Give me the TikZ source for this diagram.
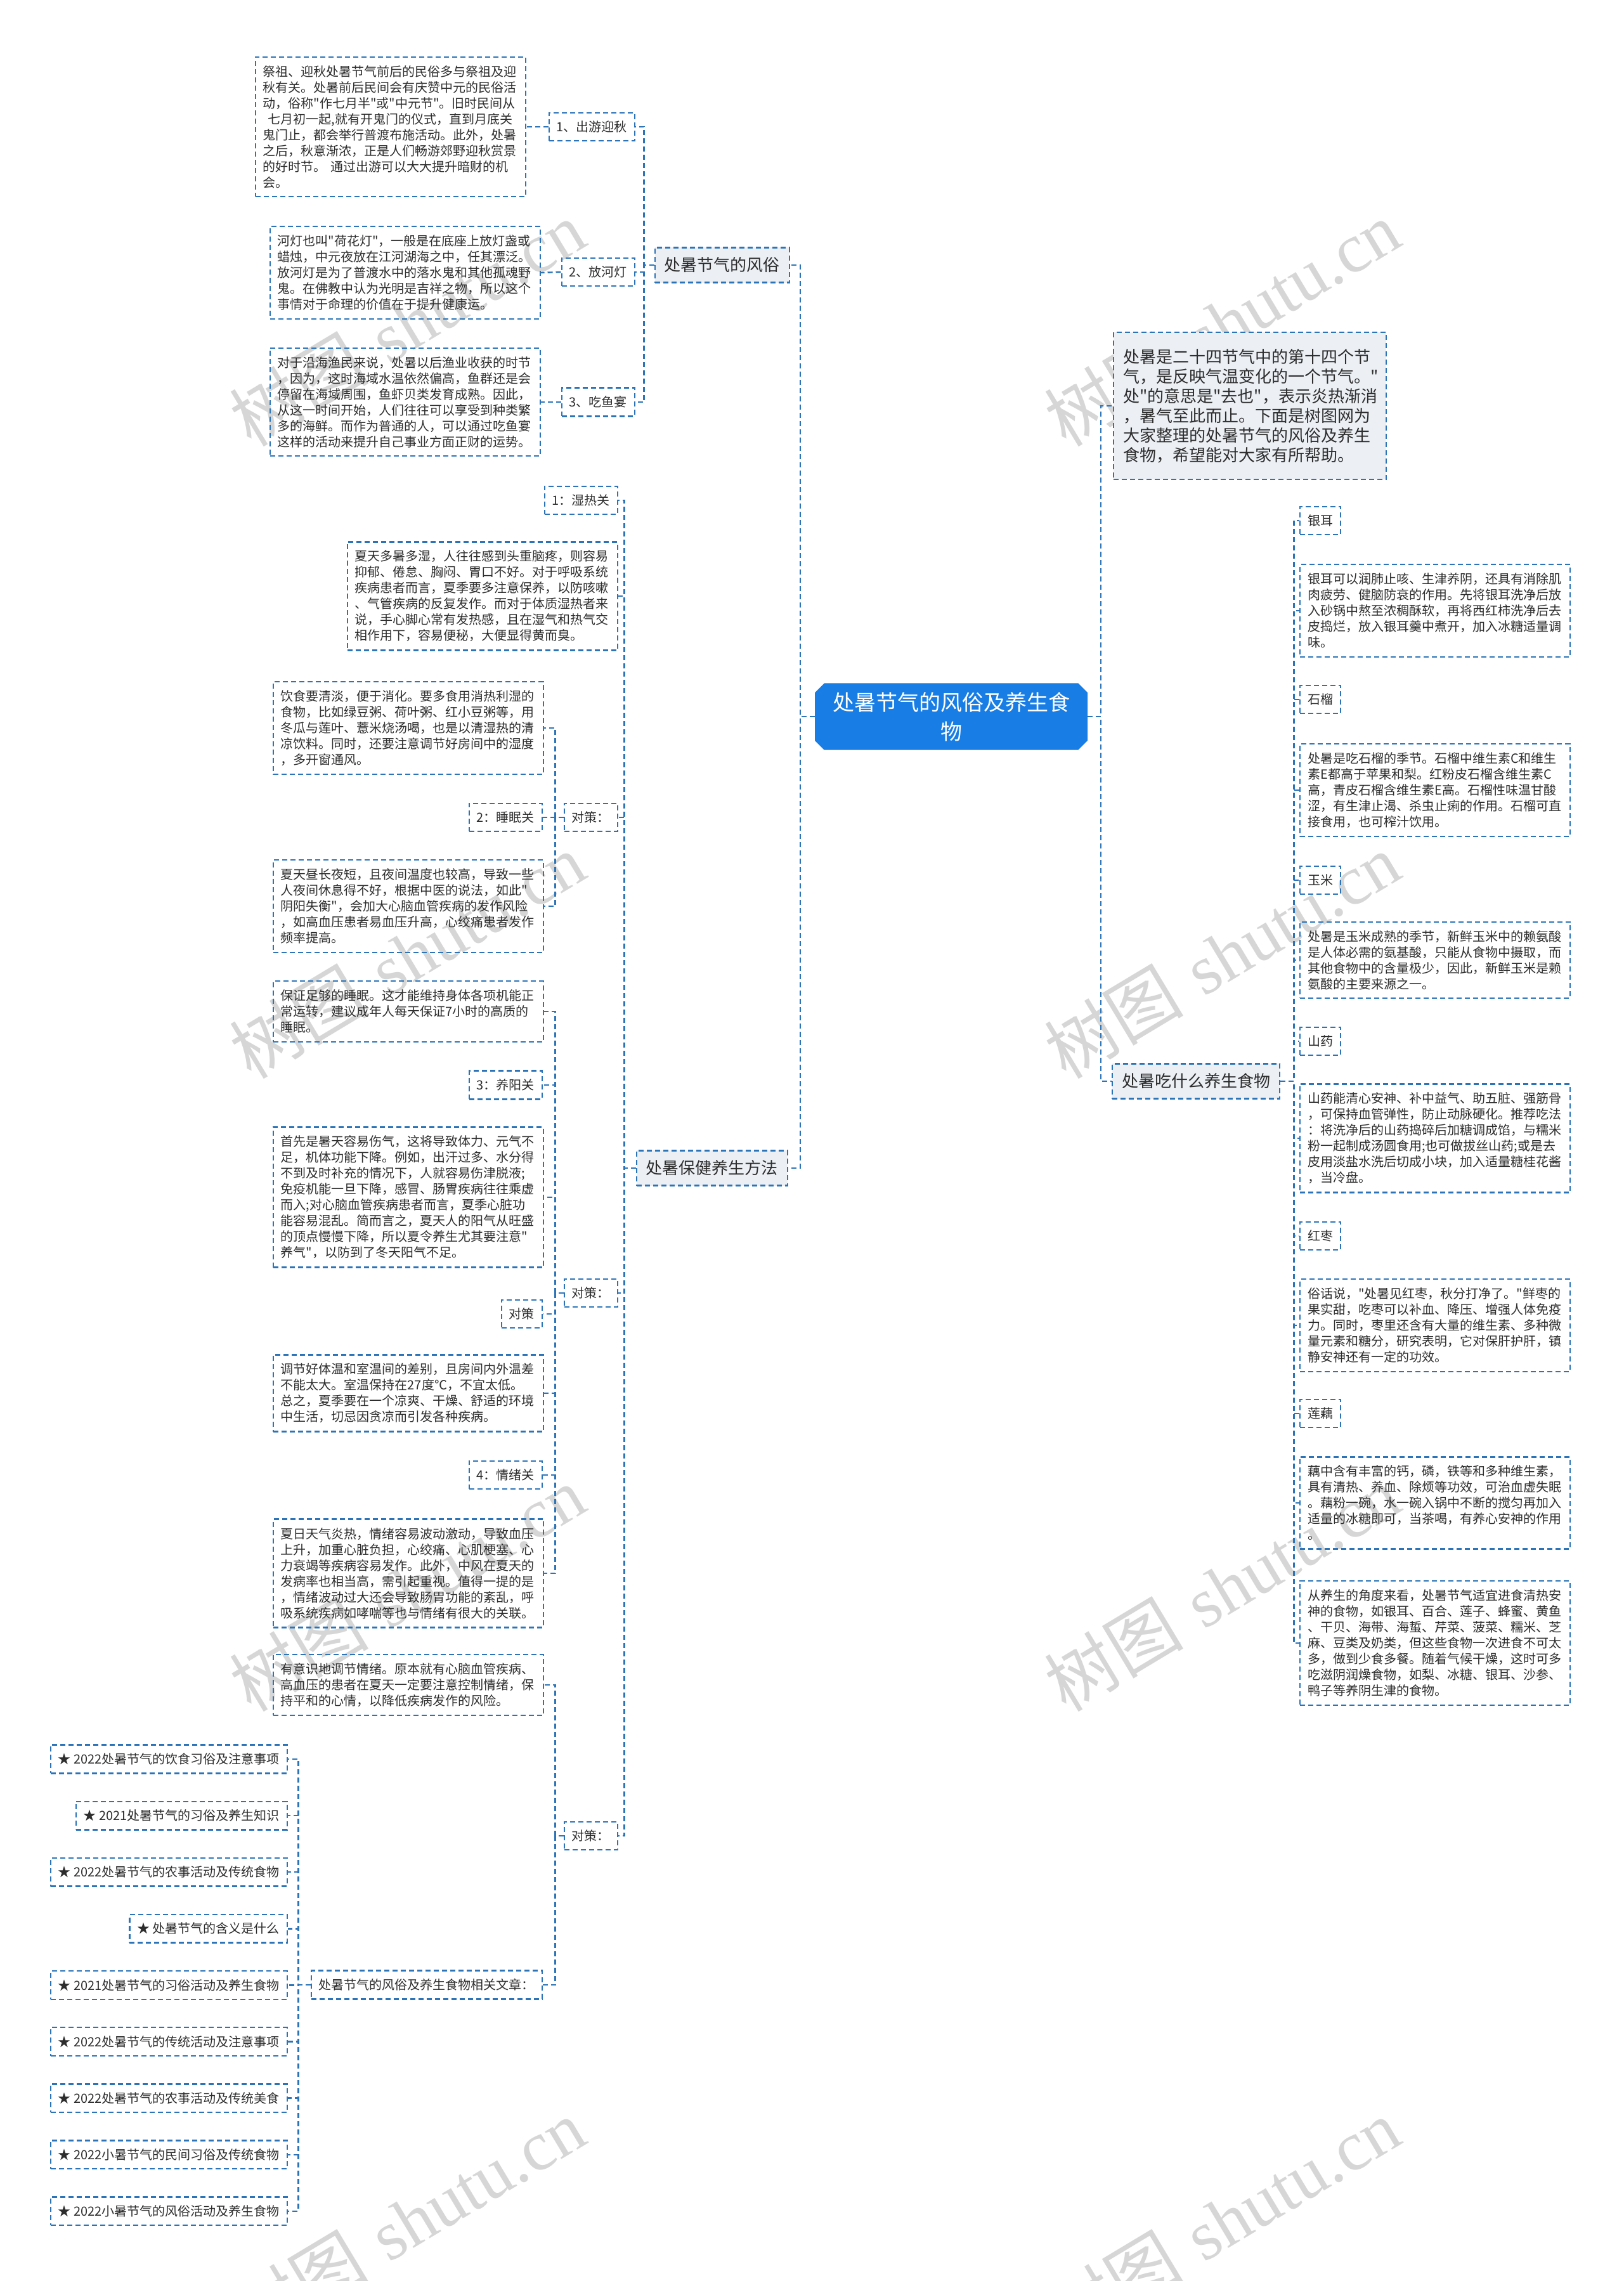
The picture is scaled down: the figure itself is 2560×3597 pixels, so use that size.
\documentclass[tikz,border=0pt]{standalone}
\usepackage{fontspec}
\newfontfamily\cjk{Noto Sans CJK SC}
\newfontfamily\wmserif{Liberation Serif}
\usetikzlibrary{shapes.misc}

\definecolor{wireblue}{RGB}{43,116,184}
\definecolor{rootblue}{RGB}{24,125,228}
\definecolor{topicbg}{RGB}{236,240,245}
\definecolor{inkgray}{RGB}{45,45,45}
\definecolor{wmgray}{RGB}{214,214,214}

\tikzset{
  wire/.style={draw=wireblue, line width=2.4pt, dash pattern=on 8pt off 5pt},
  rootbox/.style={shape=chamfered rectangle, chamfered rectangle xsep=12pt, fill=rootblue, text=white,
    font=\cjk\fontsize{34}{46}\selectfont, align=center, inner xsep=16pt, inner ysep=11pt},
  topicbox/.style={wire, fill=topicbg, text=inkgray, font=\cjk\fontsize{26}{31}\selectfont, inner xsep=15pt, inner ysep=15.5pt},
  tagbox/.style={wire, text=inkgray, font=\cjk\fontsize{20}{25}\selectfont, inner xsep=12pt, inner ysep=13pt},
  notebox/.style={wire, text=inkgray, font=\cjk\fontsize{20}{25}\selectfont, text width=402pt, align=left, inner xsep=12pt, inner ysep=13.5pt},
  wmark/.style={text=wmgray, rotate=31, font=\fontsize{110}{110}\selectfont}
}

\begin{document}
\begin{tikzpicture}[x=1pt, y=-1pt]
    \path[fill=white, use as bounding box] (0,0) rectangle (2560,3597);

    % Watermarks
    \foreach \wx in {642,1927} {
        \foreach \wy in {510,1507,2505,3503} {
            \node[wmark] at (\wx,\wy) {{\cjk 树图} {\wmserif shutu.cn}};
        }
    }

    % Root
    \node[rootbox] (root) at (1500,1130) {处暑节气的风俗及养生食\\物};

    % Main branches
    \node[topicbox, anchor=east] (fengsu) at (1246,418) {处暑节气的风俗};
    \node[topicbox, anchor=east] (baojian) at (1243,1842) {处暑保健养生方法};
    \node[topicbox, anchor=west, text width=400pt, align=left, inner ysep=26pt] (intro) at (1755,640)
        {处暑是二十四节气中的第十四个节\\气，是反映气温变化的一个节气。"\\处"的意思是"去也"，表示炎热渐消\\，暑气至此而止。下面是树图网为\\大家整理的处暑节气的风俗及养生\\食物，希望能对大家有所帮助。};
    \node[topicbox, anchor=west] (chishenme) at (1753,1705) {处暑吃什么养生食物};

    % Customs
    \node[tagbox, anchor=east] (chuyou) at (1002,200) {1、出游迎秋};
    \node[tagbox, anchor=east] (hedeng) at (1002,429) {2、放河灯};
    \node[tagbox, anchor=east] (yuyan) at (1002,634) {3、吃鱼宴};
    \node[notebox, anchor=east] (chuyoutxt) at (830,200)
        {祭祖、迎秋处暑节气前后的民俗多与祭祖及迎\\秋有关。处暑前后民间会有庆赞中元的民俗活\\动，俗称"作七月半"或"中元节"。旧时民间从\\\hspace*{8pt}七月初一起,就有开鬼门的仪式，直到月底关\\鬼门止，都会举行普渡布施活动。此外，处暑\\之后，秋意渐浓，正是人们畅游郊野迎秋赏景\\的好时节。 通过出游可以大大提升暗财的机\\会。};
    \node[notebox, anchor=east] (hedengtxt) at (853,430)
        {河灯也叫"荷花灯"，一般是在底座上放灯盏或\\蜡烛，中元夜放在江河湖海之中，任其漂泛。\\放河灯是为了普渡水中的落水鬼和其他孤魂野\\鬼。在佛教中认为光明是吉祥之物，所以这个\\事情对于命理的价值在于提升健康运。};
    \node[notebox, anchor=east] (yuyantxt) at (853,634)
        {对于沿海渔民来说，处暑以后渔业收获的时节\\，因为，这时海域水温依然偏高，鱼群还是会\\停留在海域周围，鱼虾贝类发育成熟。因此，\\从这一时间开始，人们往往可以享受到种类繁\\多的海鲜。而作为普通的人，可以通过吃鱼宴\\这样的活动来提升自己事业方面正财的运势。};

    % Health care
    \node[tagbox, anchor=east] (shire) at (975,789) {1：湿热关};
    \node[notebox, anchor=east] (shiretxt) at (975,940)
        {夏天多暑多湿，人往往感到头重脑疼，则容易\\抑郁、倦怠、胸闷、胃口不好。对于呼吸系统\\疾病患者而言，夏季要多注意保养，以防咳嗽\\、气管疾病的反复发作。而对于体质湿热者来\\说，手心脚心常有发热感，且在湿气和热气交\\相作用下，容易便秘，大便显得黄而臭。};
    \node[tagbox, anchor=east] (duice1) at (975,1289) {对策：};
    \node[tagbox, anchor=east] (duice2) at (975,2039) {对策：};
    \node[tagbox, anchor=east] (duice3) at (975,2895) {对策：};

    \node[notebox, anchor=east] (yinshi) at (858,1148)
        {饮食要清淡，便于消化。要多食用消热利湿的\\食物，比如绿豆粥、荷叶粥、红小豆粥等，用\\冬瓜与莲叶、薏米烧汤喝，也是以清湿热的清\\凉饮料。同时，还要注意调节好房间中的湿度\\，多开窗通风。};
    \node[tagbox, anchor=east] (shuimian) at (856,1289) {2：睡眠关};
    \node[notebox, anchor=east] (zhouchang) at (858,1429)
        {夏天昼长夜短，且夜间温度也较高，导致一些\\人夜间休息得不好，根据中医的说法，如此"\\阴阳失衡"，会加大心脑血管疾病的发作风险\\，如高血压患者易血压升高，心绞痛患者发作\\频率提高。};

    \node[notebox, anchor=east] (baozheng) at (858,1595)
        {保证足够的睡眠。这才能维持身体各项机能正\\常运转，建议成年人每天保证7小时的高质的\\睡眠。};
    \node[tagbox, anchor=east] (yangyang) at (856,1711) {3：养阳关};
    \node[notebox, anchor=east] (shouxian) at (858,1888)
        {首先是暑天容易伤气，这将导致体力、元气不\\足，机体功能下降。例如，出汗过多、水分得\\不到及时补充的情况下，人就容易伤津脱液;\\免疫机能一旦下降，感冒、肠胃疾病往往乘虚\\而入;对心脑血管疾病患者而言，夏季心脏功\\能容易混乱。简而言之，夏天人的阳气从旺盛\\的顶点慢慢下降，所以夏令养生尤其要注意"\\养气"，以防到了冬天阳气不足。};
    \node[tagbox, anchor=east] (duice) at (856,2072) {对策};
    \node[notebox, anchor=east] (tiaojie) at (858,2197)
        {调节好体温和室温间的差别，且房间内外温差\\不能太大。室温保持在27度℃，不宜太低。\\总之，夏季要在一个凉爽、干燥、舒适的环境\\中生活，切忌因贪凉而引发各种疾病。};
    \node[tagbox, anchor=east] (qingxu) at (856,2326) {4：情绪关};
    \node[notebox, anchor=east] (xiari) at (858,2481)
        {夏日天气炎热，情绪容易波动激动，导致血压\\上升，加重心脏负担，心绞痛、心肌梗塞、心\\力衰竭等疾病容易发作。此外，中风在夏天的\\发病率也相当高，需引起重视。值得一提的是\\，情绪波动过大还会导致肠胃功能的紊乱，呼\\吸系统疾病如哮喘等也与情绪有很大的关联。};

    \node[notebox, anchor=east] (youyishi) at (858,2657)
        {有意识地调节情绪。原本就有心脑血管疾病、\\高血压的患者在夏天一定要注意控制情绪，保\\持平和的心情，以降低疾病发作的风险。};
    \node[tagbox, anchor=east] (xiangguan) at (856,3130) {处暑节气的风俗及养生食物相关文章：};

    % Related articles
    \foreach \i/\t in {1/★ 2022处暑节气的饮食习俗及注意事项, 2/★ 2021处暑节气的习俗及养生知识,
        3/★ 2022处暑节气的农事活动及传统食物, 4/★ 处暑节气的含义是什么,
        5/★ 2021处暑节气的习俗活动及养生食物, 6/★ 2022处暑节气的传统活动及注意事项,
        7/★ 2022处暑节气的农事活动及传统美食, 8/★ 2022小暑节气的民间习俗及传统食物,
        9/★ 2022小暑节气的风俗活动及养生食物} {
        \node[tagbox, anchor=east] (art\i) at (454,{2774+89.1*(\i-1)}) {\t};
    }

    % Foods
    \node[tagbox, anchor=west] (yiner) at (2049,821) {银耳};
    \node[notebox, anchor=west] (yinertxt) at (2049,963)
        {银耳可以润肺止咳、生津养阴，还具有消除肌\\肉疲劳、健脑防衰的作用。先将银耳洗净后放\\入砂锅中熬至浓稠酥软，再将西红柿洗净后去\\皮捣烂，放入银耳羹中煮开，加入冰糖适量调\\味。};
    \node[tagbox, anchor=west] (shiliu) at (2049,1103) {石榴};
    \node[notebox, anchor=west] (shiliutxt) at (2049,1246)
        {处暑是吃石榴的季节。石榴中维生素C和维生\\素E都高于苹果和梨。红粉皮石榴含维生素C\\高，青皮石榴含维生素E高。石榴性味温甘酸\\涩，有生津止渴、杀虫止痢的作用。石榴可直\\接食用，也可榨汁饮用。};
    \node[tagbox, anchor=west] (yumi) at (2049,1388) {玉米};
    \node[notebox, anchor=west] (yumitxt) at (2049,1514)
        {处暑是玉米成熟的季节，新鲜玉米中的赖氨酸\\是人体必需的氨基酸，只能从食物中摄取，而\\其他食物中的含量极少，因此，新鲜玉米是赖\\氨酸的主要来源之一。};
    \node[tagbox, anchor=west] (shanyao) at (2049,1642) {山药};
    \node[notebox, anchor=west] (shanyaotxt) at (2049,1795)
        {山药能清心安神、补中益气、助五脏、强筋骨\\，可保持血管弹性，防止动脉硬化。推荐吃法\\：将洗净后的山药捣碎后加糖调成馅，与糯米\\粉一起制成汤圆食用;也可做拔丝山药;或是去\\皮用淡盐水洗后切成小块，加入适量糖桂花酱\\，当冷盘。};
    \node[tagbox, anchor=west] (hongzao) at (2049,1949) {红枣};
    \node[notebox, anchor=west] (hongzaotxt) at (2049,2090)
        {俗话说，"处暑见红枣，秋分打净了。"鲜枣的\\果实甜，吃枣可以补血、降压、增强人体免疫\\力。同时，枣里还含有大量的维生素、多种微\\量元素和糖分，研究表明，它对保肝护肝，镇\\静安神还有一定的功效。};
    \node[tagbox, anchor=west] (lianou) at (2049,2229) {莲藕};
    \node[notebox, anchor=west] (lianoutxt) at (2049,2370)
        {藕中含有丰富的钙，磷，铁等和多种维生素，\\具有清热、养血、除烦等功效，可治血虚失眠\\。藕粉一碗，水一碗入锅中不断的搅匀再加入\\适量的冰糖即可，当茶喝，有养心安神的作用\\。};
    \node[notebox, anchor=west] (yangsheng) at (2049,2591)
        {从养生的角度来看，处暑节气适宜进食清热安\\神的食物，如银耳、百合、莲子、蜂蜜、黄鱼\\、干贝、海带、海蜇、芹菜、菠菜、糯米、芝\\麻、豆类及奶类，但这些食物一次进食不可太\\多，做到少食多餐。随着气候干燥，这时可多\\吃滋阴润燥食物，如梨、冰糖、银耳、沙参、\\鸭子等养阴生津的食物。};

    % Connectors
    \foreach \kid in {fengsu,baojian} \draw[wire] (root.west) -- ++(-23,0) |- (\kid.east);
    \foreach \kid in {intro,chishenme} \draw[wire] (root.east) -- ++(21,0) |- (\kid.west);
    \foreach \kid in {chuyou,hedeng,yuyan} \draw[wire] (fengsu.west) -- ++(-16,0) |- (\kid.east);
    \draw[wire] (chuyou.west) -- (chuyoutxt.east);
    \draw[wire] (hedeng.west) -- (hedengtxt.east);
    \draw[wire] (yuyan.west) -- (yuyantxt.east);
    \foreach \kid in {shire,shiretxt,duice1,duice2,duice3} \draw[wire] (baojian.west) -- ++(-18,0) |- (\kid.east);
    \foreach \kid in {yinshi,shuimian,zhouchang} \draw[wire] (duice1.west) -- ++(-13,0) |- (\kid.east);
    \foreach \kid in {baozheng,yangyang,shouxian,duice,tiaojie,qingxu,xiari} \draw[wire] (duice2.west) -- ++(-13,0) |- (\kid.east);
    \foreach \kid in {youyishi,xiangguan} \draw[wire] (duice3.west) -- ++(-13,0) |- (\kid.east);
    \foreach \i in {1,...,9} \draw[wire] (xiangguan.west) -- ++(-19,0) |- (art\i.east);
    \foreach \kid in {yiner,yinertxt,shiliu,shiliutxt,yumi,yumitxt,shanyao,shanyaotxt,hongzao,hongzaotxt,lianou,lianoutxt,yangsheng}
        \draw[wire] (chishenme.east) -- ++(21,0) |- (\kid.west);
\end{tikzpicture}
\end{document}
